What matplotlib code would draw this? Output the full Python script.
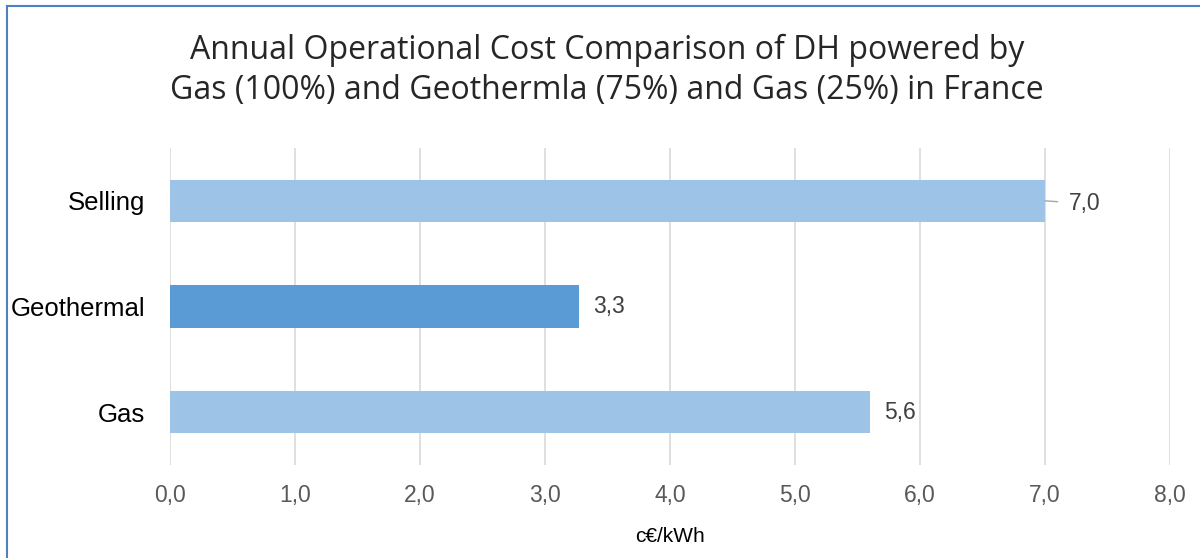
import matplotlib.pyplot as plt
from matplotlib.lines import Line2D

categories = ["Gas", "Geothermal", "Selling"]
values = [5.6, 3.27, 7.0]
bar_colors = ["#9dc3e6", "#5b9bd5", "#9dc3e6"]
xticks = [0, 1, 2, 3, 4, 5, 6, 7, 8]

fig = plt.figure(figsize=(12, 5.58), dpi=100)
ax = fig.add_axes([0.1417, 0.1667, 0.8333, 0.5681])

ypos = range(len(categories))
ax.barh(ypos, values, height=0.4, color=bar_colors, zorder=3)

ax.set_xlim(0, 8)
ax.set_ylim(-0.5, 2.5)
ax.set_xticks(xticks)
ax.set_xticklabels([f"{t:.1f}".replace(".", ",") for t in xticks],
                   fontsize=16.5, color="#595959", family="Liberation Sans")
ax.set_yticks(list(ypos))
ax.set_yticklabels(categories, fontsize=18.5, color="#000000", family="Liberation Sans")
ax.tick_params(axis="both", length=0)
ax.tick_params(axis="x", pad=14)
ax.tick_params(axis="y", pad=18)
for s in ax.spines.values():
    s.set_visible(False)
ax.xaxis.grid(True, color="#d9d9d9", linewidth=1.2, zorder=0)
ax.set_xlabel("c€/kWh", fontsize=15, color="#000000", family="Liberation Sans", labelpad=14)

# value labels
for i, v in enumerate(values):
    txt = f"{v:.1f}".replace(".", ",")
    if i == 2:
        # leader line like the original
        ax.annotate(txt, xy=(v, i), xytext=(17, -2), textcoords="offset points",
                    va="center", ha="left", fontsize=16.5, color="#404040",
                    family="Liberation Sans",
                    arrowprops=dict(arrowstyle="-", color="#a6a6a6", lw=1,
                                    shrinkA=6, shrinkB=0))
    else:
        ax.annotate(txt, xy=(v, i), xytext=(10, 0), textcoords="offset points",
                    va="center", ha="left", fontsize=16.5, color="#404040",
                    family="Liberation Sans")

fig.text(0.506, 0.874, "Annual Operational Cost Comparison of DH powered by\n"
         "Gas (100%) and Geothermla (75%) and Gas (25%) in France",
         ha="center", va="center", fontsize=23, color="#262626",
         family="Open Sans", linespacing=1.25)

# chart border (top and left visible in the crop)
fig.add_artist(Line2D([0.006, 1.0], [0.989, 0.989], color="#4f81bd", lw=1.5))
fig.add_artist(Line2D([0.006, 0.006], [0.0, 0.989], color="#4f81bd", lw=1.5))

fig.savefig("out.png", dpi=100, facecolor="white")
